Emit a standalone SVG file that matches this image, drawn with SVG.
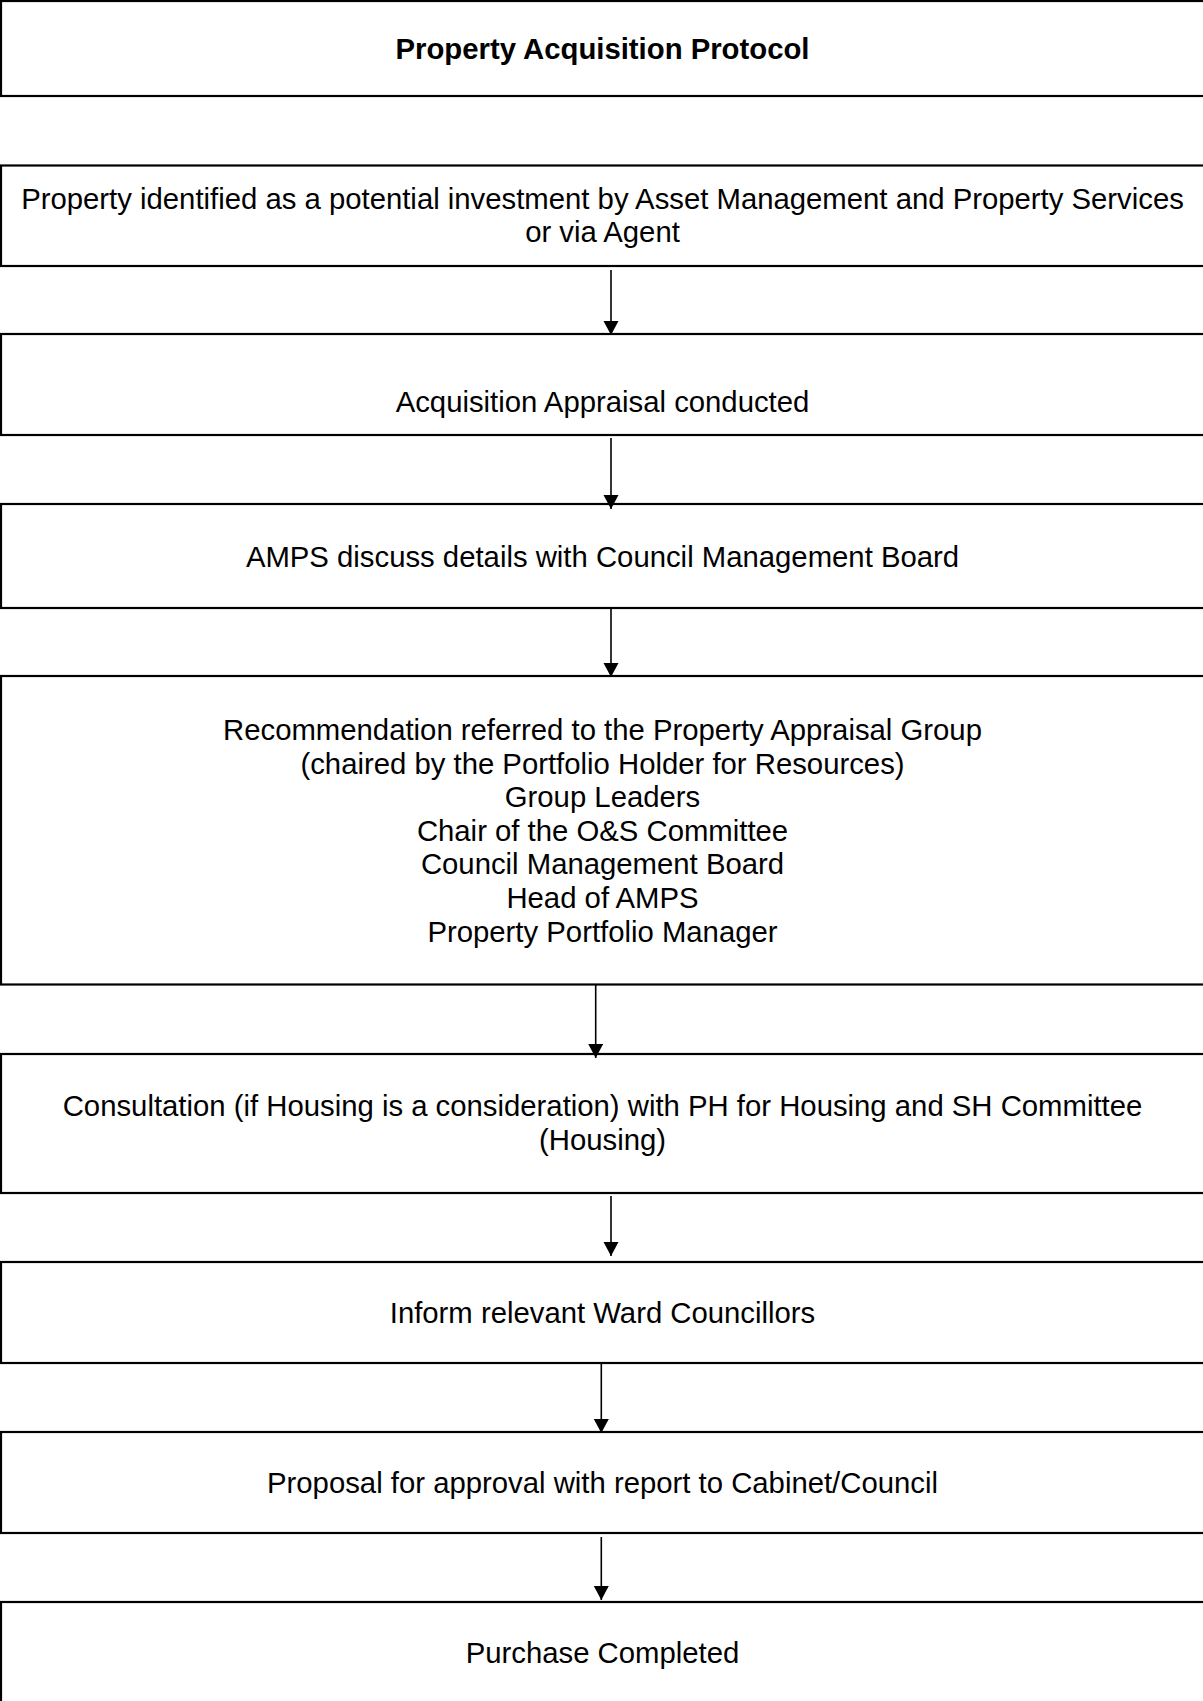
<svg xmlns="http://www.w3.org/2000/svg" width="1203" height="1701" viewBox="0 0 1203 1701">
<style>
.box{fill:#fff;stroke:#000;stroke-width:2.2}
.t{font-family:"Liberation Sans",Arial,sans-serif;font-size:29.3px;fill:#000;text-anchor:middle}
.b{font-weight:bold}
.c{stroke:#000;stroke-width:1.6;fill:none}
</style>
<defs>
<marker id="ah" markerUnits="userSpaceOnUse" markerWidth="16" markerHeight="16" refX="14" refY="7.5" orient="auto">
<path d="M0,0 L14,7.5 L0,15 z" fill="#000"/>
</marker>
</defs>
<rect width="1203" height="1701" fill="#fff"/>
<g id="n1"><rect class="box" x="1" y="1" width="1215" height="95"/><text class="t b" x="602.5" y="59">Property Acquisition Protocol</text></g>
<g id="n2"><rect class="box" x="1" y="165.5" width="1215" height="100.5"/><text class="t" x="602.5" y="209">Property identified as a potential investment by Asset Management and Property Services</text><text class="t" x="602.5" y="242">or via Agent</text></g>
<g id="n3"><rect class="box" x="1" y="334" width="1215" height="101"/><text class="t" x="602.5" y="412">Acquisition Appraisal conducted</text></g>
<g id="n4"><rect class="box" x="1" y="504" width="1215" height="104"/><text class="t" x="602.5" y="567">AMPS discuss details with Council Management Board</text></g>
<g id="n5"><rect class="box" x="1" y="676" width="1215" height="308.5"/>
<text class="t" x="602.5" y="740">Recommendation referred to the Property Appraisal Group</text>
<text class="t" x="602.5" y="773.5">(chaired by the Portfolio Holder for Resources)</text>
<text class="t" x="602.5" y="807">Group Leaders</text>
<text class="t" x="602.5" y="840.5">Chair of the O&amp;S Committee</text>
<text class="t" x="602.5" y="874.2">Council Management Board</text>
<text class="t" x="602.5" y="908">Head of AMPS</text>
<text class="t" x="602.5" y="941.6">Property Portfolio Manager</text></g>
<g id="n6"><rect class="box" x="1" y="1054" width="1215" height="139"/><text class="t" x="602.5" y="1116">Consultation (if Housing is a consideration) with PH for Housing and SH Committee</text><text class="t" x="602.5" y="1149.6">(Housing)</text></g>
<g id="n7"><rect class="box" x="1" y="1262" width="1215" height="101"/><text class="t" x="602.5" y="1323">Inform relevant Ward Councillors</text></g>
<g id="n8"><rect class="box" x="1" y="1432" width="1215" height="101"/><text class="t" x="602.5" y="1493">Proposal for approval with report to Cabinet/Council</text></g>
<g id="n9"><rect class="box" x="1" y="1602" width="1215" height="200"/><text class="t" x="602.5" y="1663">Purchase Completed</text></g>
<g id="connectors">
<line class="c" x1="611" y1="270" x2="611" y2="335" marker-end="url(#ah)"/>
<line class="c" x1="611" y1="438" x2="611" y2="509" marker-end="url(#ah)"/>
<line class="c" x1="611" y1="608" x2="611" y2="677" marker-end="url(#ah)"/>
<line class="c" x1="595.7" y1="985" x2="595.7" y2="1058" marker-end="url(#ah)"/>
<line class="c" x1="611" y1="1196" x2="611" y2="1256" marker-end="url(#ah)"/>
<line class="c" x1="601.3" y1="1363" x2="601.3" y2="1433" marker-end="url(#ah)"/>
<line class="c" x1="601.3" y1="1537" x2="601.3" y2="1600" marker-end="url(#ah)"/>
</g>
</svg>
